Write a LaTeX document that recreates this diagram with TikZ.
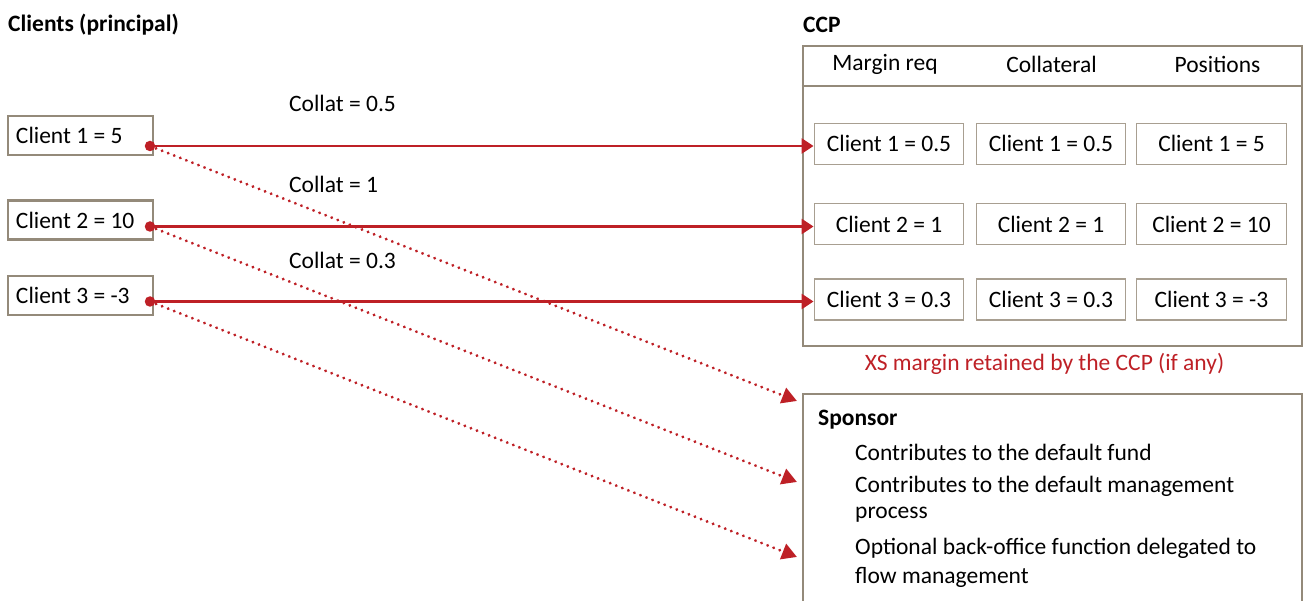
\documentclass[tikz,border=0pt]{standalone}
\usepackage{fontspec}
\setmainfont{Carlito}
\usetikzlibrary{arrows.meta}
\definecolor{cred}{HTML}{BE2026}
\definecolor{cbrd}{HTML}{948A7A}
\definecolor{cbrdl}{HTML}{A89F91}
\newcommand{\lefttext}[1]{\makebox[129pt][l]{#1}}
\tikzset{
  base/.style={font=\fontsize{23.5pt}{28pt}\selectfont, inner sep=0pt},
  clientbox/.style={base, draw=cbrd, line width=2.4pt, minimum width=145pt, minimum height=39pt},
  cellbox/.style={base, draw=cbrdl, line width=1.4pt, minimum width=149.5pt, minimum height=41pt, align=center},
  head/.style={base, font=\fontsize{23.5pt}{28pt}\selectfont\bfseries, anchor=west},
  lbl/.style={base, anchor=west},
  dotnode/.style={circle, fill=cred, inner sep=0pt, minimum size=10.5pt},
  solidarrow/.style={draw=cred, line width=2.6pt, -{Triangle[length=12pt,width=15pt]}},
  dotarrow/.style={draw=cred, line width=3.2pt, line cap=round, dash pattern=on 0.01pt off 6.5pt, -{Triangle[length=15pt,width=16pt]}},
}
\begin{document}
\begin{tikzpicture}[x=1pt,y=-1pt]
\useasboundingbox (0,0) rectangle (1303,601);
% titles
\node[head] (tclients) at (8,25) {Clients (principal)};
\node[head] (tccp) at (803,25) {CCP};
% client boxes
\node[clientbox] (c1) at (80.5,135.5) {\lefttext{Client 1 = 5}};
\node[clientbox] (c2) at (80.5,220) {\lefttext{Client 2 = 10}};
\node[clientbox] (c3) at (80.5,295.5) {\lefttext{Client 3 = -3}};
% collat labels
\node[lbl] (l1) at (289,103) {Collat = 0.5};
\node[lbl] (l2) at (289,184) {Collat = 1};
\node[lbl] (l3) at (289,260) {Collat = 0.3};
% CCP frame
\node[draw=cbrd, line width=2.4pt, minimum width=499pt, minimum height=300pt, inner sep=0pt, anchor=north west] (ccp) at (801.5,45) {};
\coordinate (hl) at (801.5,86);
\coordinate (hr) at (1300.5,86);
\draw[draw=cbrd, line width=2.4pt] (hl) -- (hr);
\node[base] (h1) at (885,64) {Margin req};
\node[base] (h2) at (1051.5,64) {Collateral};
\node[base] (h3) at (1217.5,64) {Positions};
% cells
\node[cellbox] (m1) at (889,143.8) {Client 1 = 0.5};
\node[cellbox] (k1) at (1051,143.8) {Client 1 = 0.5};
\node[cellbox] (p1) at (1211.5,143.8) {Client 1 = 5};
\node[cellbox] (m2) at (889,224) {Client 2 = 1};
\node[cellbox] (k2) at (1051,224) {Client 2 = 1};
\node[cellbox] (p2) at (1211.5,224) {Client 2 = 10};
\node[cellbox] (m3) at (889,299.5) {Client 3 = 0.3};
\node[cellbox] (k3) at (1051,299.5) {Client 3 = 0.3};
\node[cellbox] (p3) at (1211.5,299.5) {Client 3 = -3};
% XS margin
\node[base, text=cred] (xs) at (1044.5,364) {XS margin retained by the CCP (if any)};
% sponsor
\node[draw=cbrd, line width=2.4pt, minimum width=499pt, minimum height=240pt, inner sep=0pt, anchor=north west] (sp) at (801.5,393) {};
\node[head] (tsp) at (818,420) {Sponsor};
\node[lbl] (s1) at (855,452) {Contributes to the default fund};
\node[lbl] (s2) at (855,486) {Contributes to the default management};
\node[lbl] (s2b) at (855,515) {process};
\node[lbl] (s3) at (855,548) {Optional back-office function delegated to};
\node[lbl] (s3b) at (855,577) {flow management};
% dots
\node[dotnode] (d1) at (150,146) {};
\node[dotnode] (d2) at (150,226.5) {};
\node[dotnode] (d3) at (150,301.5) {};
% arrow targets
\coordinate (e1) at (797,401);
\coordinate (e2) at (797,482);
\coordinate (e3) at (797,557);
% connectors
\draw[solidarrow] (d1.center) -- (d1.center -| m1.west);
\draw[solidarrow] (d2.center) -- (d2.center -| m2.west);
\draw[solidarrow] (d3.center) -- (d3.center -| m3.west);
\draw[dotarrow] (d1.center) -- (e1);
\draw[dotarrow] (d2.center) -- (e2);
\draw[dotarrow] (d3.center) -- (e3);
\end{tikzpicture}
\end{document}
